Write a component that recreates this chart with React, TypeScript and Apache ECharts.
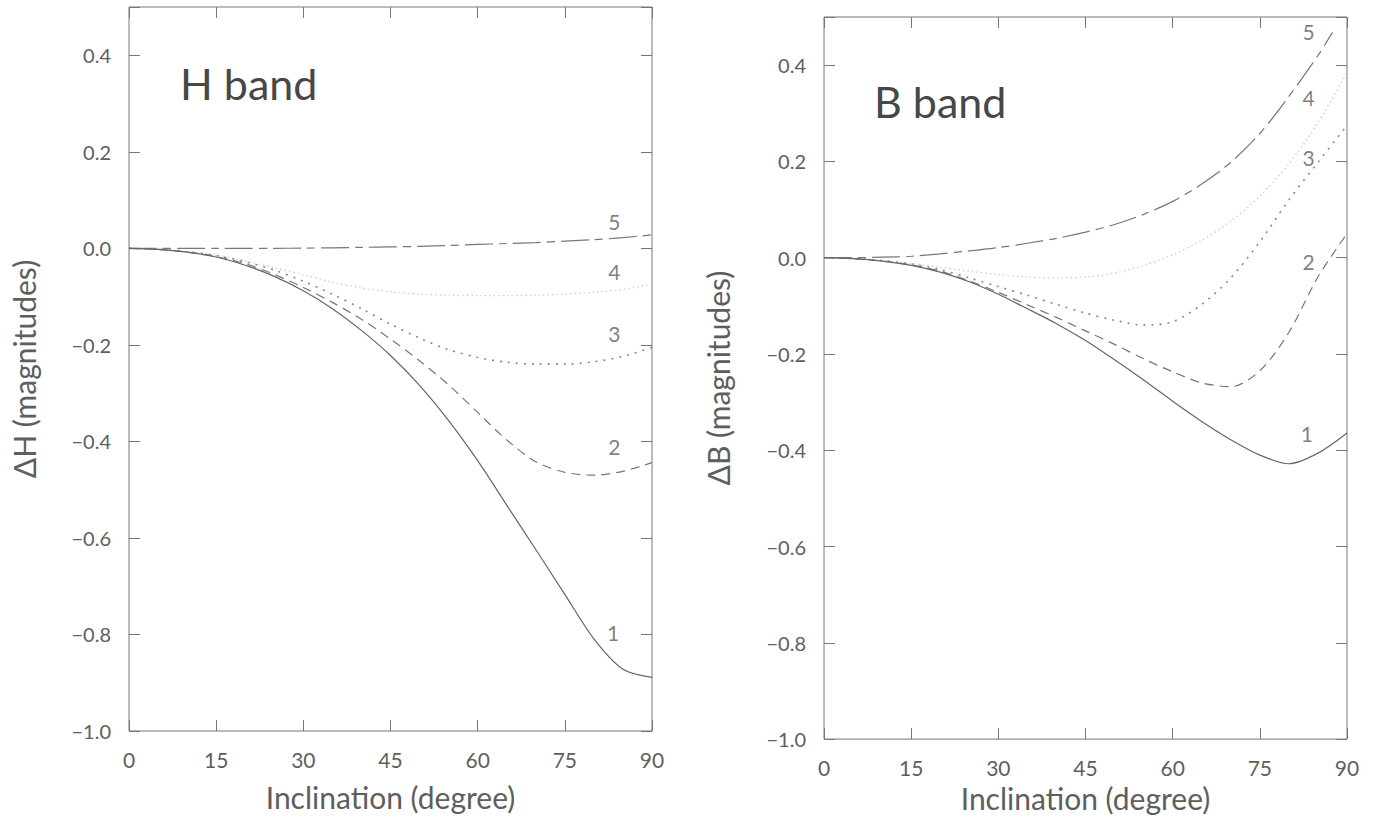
import React, { useEffect, useRef } from "react";
import * as echarts from "echarts";

// Inclination grid (degrees)
const inclination = [0, 5, 10, 15, 20, 25, 30, 35, 40, 45, 50, 55, 60, 65, 70, 75, 80, 85, 90];
const inclinationB5 = [0, 5, 10, 15, 20, 25, 30, 35, 40, 45, 50, 55, 60, 65, 70, 75, 80, 85, 87.5];

// H band curves (magnitudes)
const hCurve1 = [0, -0.002, -0.008, -0.018, -0.035, -0.058, -0.088, -0.125, -0.17, -0.222, -0.284, -0.357, -0.44, -0.532, -0.624, -0.717, -0.809, -0.872, -0.889];
const hCurve2 = [0, -0.002, -0.008, -0.017, -0.032, -0.054, -0.081, -0.112, -0.147, -0.188, -0.233, -0.283, -0.34, -0.397, -0.442, -0.464, -0.47, -0.462, -0.444];
const hCurve3 = [0, -0.002, -0.007, -0.015, -0.028, -0.045, -0.068, -0.095, -0.125, -0.157, -0.186, -0.21, -0.226, -0.236, -0.24, -0.24, -0.235, -0.224, -0.205];
const hCurve4 = [0, -0.002, -0.007, -0.014, -0.026, -0.04, -0.055, -0.07, -0.082, -0.09, -0.095, -0.097, -0.098, -0.098, -0.097, -0.095, -0.091, -0.085, -0.074];
const hCurve5 = [0, 0, 0, 0, 0, 0, 0.0005, 0.001, 0.002, 0.003, 0.004, 0.006, 0.008, 0.01, 0.012, 0.015, 0.018, 0.022, 0.028];

// B band curves (magnitudes)
const bCurve1 = [0, -0.002, -0.007, -0.016, -0.03, -0.05, -0.076, -0.106, -0.137, -0.172, -0.212, -0.254, -0.298, -0.34, -0.378, -0.41, -0.428, -0.406, -0.364];
const bCurve2 = [0, -0.002, -0.007, -0.015, -0.028, -0.048, -0.072, -0.098, -0.124, -0.152, -0.18, -0.21, -0.237, -0.26, -0.268, -0.235, -0.155, -0.04, 0.05];
const bCurve3 = [0, -0.002, -0.006, -0.013, -0.025, -0.042, -0.06, -0.078, -0.097, -0.115, -0.13, -0.14, -0.133, -0.097, -0.042, 0.033, 0.12, 0.198, 0.275];
const bCurve4 = [0, -0.002, -0.006, -0.012, -0.02, -0.028, -0.035, -0.04, -0.042, -0.04, -0.032, -0.016, 0.006, 0.036, 0.076, 0.128, 0.195, 0.28, 0.385];
const bCurve5 = [0, 0, 0.001, 0.003, 0.008, 0.014, 0.021, 0.03, 0.04, 0.053, 0.069, 0.09, 0.117, 0.153, 0.198, 0.258, 0.335, 0.42, 0.468];

// Curve number annotations: [inclination, magnitude, label]
const hCurveLabels: [number, number, string][] = [
  [83.5, 0.055, "5"],
  [83.5, -0.049, "4"],
  [83.5, -0.176, "3"],
  [83.5, -0.41, "2"],
  [83.3, -0.795, "1"],
];
const bCurveLabels: [number, number, string][] = [
  [83.4, 0.469, "5"],
  [83.4, 0.333, "4"],
  [83.4, 0.208, "3"],
  [83.4, -0.008, "2"],
  [83.1, -0.366, "1"],
];

const xTicks = { min: 0, max: 90, interval: 15 };
const yTicks = { min: -1.0, max: 0.5, interval: 0.2 };

const FONT = "Lato, 'Noto Sans', sans-serif";
const AXIS_COLOR = "#777";
const TEXT_COLOR = "#5e5e5e";

const curveStyles = [
  { type: "solid", color: "#666", width: 1.2 },
  { type: [9, 6], color: "#777", width: 1.2 },
  { type: [2, 6], color: "#888", width: 1.6 },
  { type: [1.5, 3], color: "#cfcfcf", width: 1.4 },
  { type: [28, 6, 8, 6], color: "#777", width: 1.2 },
];

function zip(xs: number[], ys: number[]) {
  return xs.map((x, i) => [x, ys[i]]);
}

function fmtY(v: number) {
  if (Math.abs(v - 0.5) < 1e-9) return "";
  if (Math.abs(v) < 1e-9) return "0.0";
  const s = v.toFixed(1);
  return s.replace("-", "\u2212");
}

export default function App() {
  const ref = useRef<HTMLDivElement>(null);

  useEffect(() => {
    if (!ref.current) return;
    const chart = echarts.init(ref.current, undefined, { renderer: "svg" });

    const grids = [
      { left: 129, top: 7, width: 523, height: 724 },
      { left: 824, top: 17, width: 523, height: 724 },
    ];

    const xAxes: any[] = [];
    const yAxes: any[] = [];
    const nameGapsX = [51, 43];
    const nameGapsY = [90, 91];
    const yNames = ["\u0394H (magnitudes)", "\u0394B (magnitudes)"];
    grids.forEach((_, g) => {
      xAxes.push({
        type: "value",
        gridIndex: g,
        ...xTicks,
        position: "bottom",
        axisLine: { show: false, onZero: false },
        axisTick: { inside: true, length: 11, lineStyle: { color: AXIS_COLOR } },
        axisLabel: { color: TEXT_COLOR, fontSize: 21, fontFamily: FONT, margin: 18 },
        splitLine: { show: false },
        name: "Inclination (degree)",
        nameLocation: "middle",
        nameGap: nameGapsX[g],
        nameTextStyle: { color: TEXT_COLOR, fontSize: 30, fontFamily: FONT },
      });
      xAxes.push({
        type: "value",
        gridIndex: g,
        ...xTicks,
        position: "top",
        axisLine: { show: false, onZero: false },
        axisTick: { inside: true, length: 11, lineStyle: { color: AXIS_COLOR } },
        axisLabel: { show: false },
        splitLine: { show: false },
      });
      yAxes.push({
        type: "value",
        gridIndex: g,
        ...yTicks,
        position: "left",
        axisLine: { show: false, onZero: false },
        axisTick: { inside: true, length: 11, lineStyle: { color: AXIS_COLOR } },
        axisLabel: { color: TEXT_COLOR, fontSize: 20, fontFamily: FONT, margin: 18, formatter: fmtY },
        splitLine: { show: false },
        name: yNames[g],
        nameLocation: "middle",
        nameGap: nameGapsY[g],
        nameRotate: 90,
        nameTextStyle: { color: TEXT_COLOR, fontSize: 30, fontFamily: FONT },
      });
      yAxes.push({
        type: "value",
        gridIndex: g,
        ...yTicks,
        position: "right",
        axisLine: { show: false, onZero: false },
        axisTick: { inside: true, length: 11, lineStyle: { color: AXIS_COLOR } },
        axisLabel: { show: false },
        splitLine: { show: false },
      });
    });

    const hSets = [hCurve1, hCurve2, hCurve3, hCurve4, hCurve5];
    const bSets = [bCurve1, bCurve2, bCurve3, bCurve4, bCurve5];

    const series: any[] = [];
    hSets.forEach((ys, i) => {
      series.push({
        type: "line",
        name: "H" + (i + 1),
        xAxisIndex: 0,
        yAxisIndex: 0,
        data: zip(inclination, ys),
        showSymbol: false,
        smooth: 0.3,
        lineStyle: curveStyles[i],
        z: 5 - i,
      });
    });
    bSets.forEach((ys, i) => {
      series.push({
        type: "line",
        name: "B" + (i + 1),
        xAxisIndex: 2,
        yAxisIndex: 2,
        data: zip(i === 4 ? inclinationB5 : inclination, ys),
        showSymbol: false,
        smooth: 0.3,
        lineStyle: curveStyles[i],
        z: 5 - i,
      });
    });

    const labelSeries = (data: [number, number, string][], xi: number, yi: number) => ({
      type: "scatter",
      xAxisIndex: xi,
      yAxisIndex: yi,
      data,
      symbolSize: 1,
      itemStyle: { color: "transparent" },
      label: {
        show: true,
        position: "inside",
        formatter: (p: any) => p.data[2],
        color: TEXT_COLOR,
        fontSize: 21,
        fontFamily: FONT,
      },
      silent: true,
      z: 10,
    });
    series.push(labelSeries(hCurveLabels, 0, 0));
    series.push(labelSeries(bCurveLabels, 2, 2));

    chart.setOption({
      animation: false,
      backgroundColor: "#fff",
      title: [
        { text: "H band", left: 175, top: 57, textStyle: { fontSize: 43, fontWeight: "normal", color: "#474747", fontFamily: FONT } },
        { text: "B band", left: 869, top: 75, textStyle: { fontSize: 43, fontWeight: "normal", color: "#474747", fontFamily: FONT } },
      ],
      grid: grids.map((g) => ({ ...g, show: true, borderColor: AXIS_COLOR, borderWidth: 1, backgroundColor: "transparent" })),
      xAxis: xAxes,
      yAxis: yAxes,
      series,
    });

    return () => chart.dispose();
  }, []);

  return (
    <div
      ref={ref}
      style={{ position: "fixed", left: 0, top: 0, width: 1374, height: 818, background: "#fff" }}
    />
  );
}
